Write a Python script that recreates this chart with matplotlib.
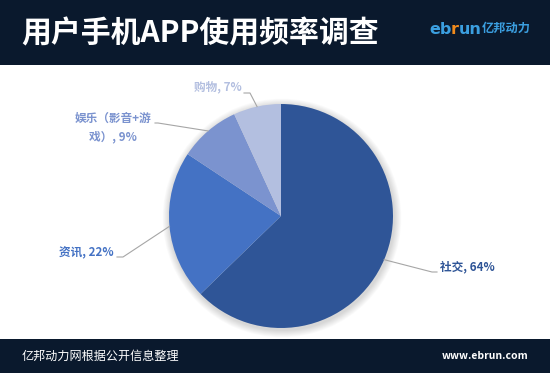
import numpy as np
import matplotlib
matplotlib.use("Agg")
import matplotlib.pyplot as plt
from matplotlib.patches import Rectangle, Circle

plt.rcParams['font.family'] = ['Noto Sans CJK SC', 'DejaVu Sans']

# data
categories = ['社交', '资讯', '娱乐（影音+游\n戏）', '购物']
shares = [64, 22, 9, 7]
colors = ['#2f5597', '#4472c4', '#7b93cf', '#b3bfe0']

title = '用户手机APP使用频率调查'
source = '亿邦动力网根据公开信息整理'
site = 'www.ebrun.com'
logo_parts = [('eb', '#3b9fe0'), ('r', '#f08a1c'), ('un', '#3b9fe0')]
logo_cn = '亿邦动力'

W, H = 550, 373
NAVY = '#0a192d'


def Y(y):
    # picture y (from top) -> axes y (from bottom)
    return H - y


fig = plt.figure(figsize=(W / 100, H / 100), dpi=100)
ax = fig.add_axes([0, 0, 1, 1])
ax.set_xlim(0, W)
ax.set_ylim(0, H)

cx, cy, r = 281, Y(216), 112

# soft shadow around the pie
for i in range(8):
    ax.add_patch(Circle((cx + 1, cy - 2), r + 1 + i * 0.9, color='#000000',
                        alpha=0.018, lw=0, zorder=1))

wedges, _ = ax.pie(shares, colors=colors, startangle=90, counterclock=False,
                   center=(cx, cy), radius=r, frame=True,
                   wedgeprops=dict(linewidth=0, zorder=2))

# label layout: elbow point, end of the short flat piece, text anchor
layout = [
    dict(elbow=(432, 272), end=(437, 272), text=(440, 267), ha='left'),
    dict(elbow=(123, 257), end=(117, 257), text=(114, 253), ha='right'),
    dict(elbow=(158, 123), end=(155, 123), text=(113, 128), ha='center'),
    dict(elbow=(250, 93), end=(244, 93), text=(242, 87), ha='right'),
]

for w, cat, val, col, lay in zip(wedges, categories, shares, colors, layout):
    mid = np.deg2rad((w.theta1 + w.theta2) / 2)
    sx, sy = cx + r * np.cos(mid), cy + r * np.sin(mid)
    ex, ey = lay['elbow']
    fx, fy = lay['end']
    ax.plot([sx, ex, fx], [sy, Y(ey), Y(fy)], color='#a6a6a6', lw=0.8, zorder=3)
    tx, ty = lay['text']
    ax.text(tx, Y(ty), f'{cat}, {val}%', color=col, fontsize=8.4, fontweight='bold',
            ha=lay['ha'], va='center', multialignment='center', linespacing=1.55,
            zorder=4)

# header and footer bars
ax.add_patch(Rectangle((0, Y(65)), W, 65, color=NAVY, lw=0, zorder=5))
ax.add_patch(Rectangle((0, 0), W, H - 339, color=NAVY, lw=0, zorder=5))

ax.text(21, Y(33), title, color='white', fontsize=21.5, fontweight='bold',
        ha='left', va='center', zorder=6)

# ebrun logo, pieces chained one after another
renderer = fig.canvas.get_renderer()
x = 429
for part, col in logo_parts:
    t = ax.text(x, Y(28), part, color=col, fontsize=11.5, fontweight='bold',
                ha='left', va='center_baseline', zorder=6, family='DejaVu Sans')
    bb = t.get_window_extent(renderer)
    x += bb.width - 0.5
ax.text(x + 1, Y(28), logo_cn, color='#3b9fe0', fontsize=8.8, fontweight='bold',
        ha='left', va='center', zorder=6)

ax.text(22, Y(356), source, color='white', fontsize=8.7,
        ha='left', va='center', zorder=6)
ax.text(528, Y(356), site, color='white', fontsize=7.5, fontweight='bold',
        ha='right', va='center', zorder=6)

ax.set_aspect('auto')
ax.axis('off')

fig.savefig('out.png', dpi=100, facecolor='white')
